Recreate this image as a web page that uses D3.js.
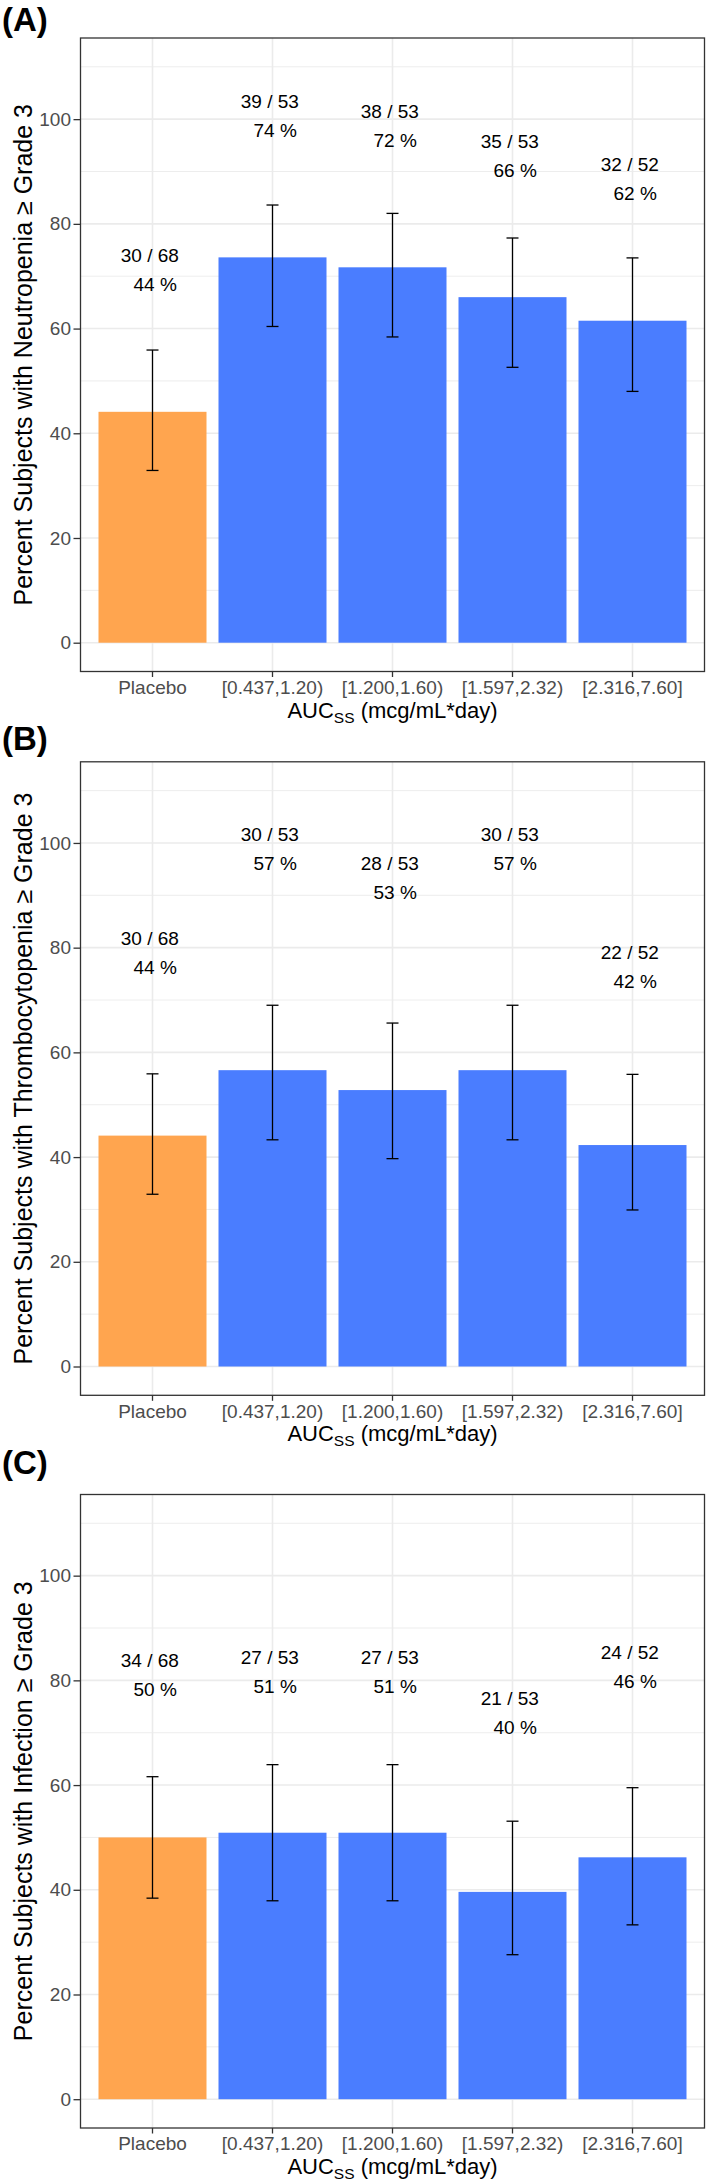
<!DOCTYPE html>
<html>
<head>
<meta charset="utf-8">
<script src="https://cdn.jsdelivr.net/npm/d3@7"></script>
<style>
  body { margin: 0; background: #fff; }
  svg text { font-family: "Liberation Sans", Arial, Helvetica, sans-serif; }
  .note { white-space: pre; }
</style>
</head>
<body>
<div id="chart"></div>
<script>
// ---- data ----
const groups = ["Placebo", "[0.437,1.20)", "[1.200,1.60)", "[1.597,2.32)", "[2.316,7.60]"];
const tags = ["(A)", "(B)", "(C)"];
const events = ["Neutropenia", "Thrombocytopenia", "Infection"];

const subjects = [68, 53, 53, 53, 52];

const casesNeutro = [30, 39, 38, 35, 32];
const casesThrombo = [30, 30, 28, 30, 22];
const casesInfect = [34, 27, 27, 21, 24];

const pctNeutro = [44.1, 73.6, 71.7, 66.0, 61.5];
const pctThrombo = [44.1, 56.6, 52.8, 56.6, 42.3];
const pctInfect = [50.0, 50.9, 50.9, 39.6, 46.2];

// whiskers (95% CI)
const loNeutro = [32.9, 60.4, 58.4, 52.6, 48.0];
const hiNeutro = [55.9, 83.6, 82.0, 77.3, 73.5];
const loThrombo = [32.9, 43.3, 39.7, 43.3, 29.9];
const hiThrombo = [55.9, 69.0, 65.6, 69.0, 55.8];
const loInfect = [38.4, 37.9, 37.9, 27.6, 33.3];
const hiInfect = [61.6, 63.9, 63.9, 53.1, 59.5];

// height of the "x / n, p %" notes (y units, lower line)
const noteNeutro = [67.1, 96.6, 94.7, 89.0, 84.5];
const noteThrombo = [74.9, 94.8, 89.2, 94.8, 72.3];
const noteInfect = [77.0, 77.5, 77.5, 69.7, 78.5];

const yTicks = [0, 20, 40, 60, 80, 100];
const yMinor = [10, 30, 50, 70, 90, 110];

const panels = [
  {tag: tags[0], event: events[0], cases: casesNeutro, pct: pctNeutro, lo: loNeutro, hi: hiNeutro, note: noteNeutro},
  {tag: tags[1], event: events[1], cases: casesThrombo, pct: pctThrombo, lo: loThrombo, hi: hiThrombo, note: noteThrombo},
  {tag: tags[2], event: events[2], cases: casesInfect, pct: pctInfect, lo: loInfect, hi: hiInfect, note: noteInfect}
];

// ---- layout ----
const W = 709, H = 2182;
const left = 80.5, pw = 624, ph = 633.5;
const tops = [38, 761.8, 1494.5];
const tagBase = [31, 750, 1474];

const svg = d3.select("#chart").append("svg")
  .attr("width", W).attr("height", H);

const x = d3.scaleBand()
  .domain(groups)
  .range([left, left + pw])
  .paddingInner(0.1)
  .paddingOuter(0.15);

panels.forEach(function(p, k) {
  const top = tops[k];
  const y = d3.scaleLinear().domain([-5.5, 115.5]).range([top + ph, top]);
  const g = svg.append("g");
  const cx = d => x(d) + x.bandwidth() / 2;

  // grid
  g.append("g").selectAll("line").data(yMinor).join("line")
    .attr("x1", left).attr("x2", left + pw)
    .attr("y1", d => y(d)).attr("y2", d => y(d))
    .attr("stroke", "#EBEBEB").attr("stroke-width", 0.9);
  g.append("g").selectAll("line").data(yTicks).join("line")
    .attr("x1", left).attr("x2", left + pw)
    .attr("y1", d => y(d)).attr("y2", d => y(d))
    .attr("stroke", "#EBEBEB").attr("stroke-width", 1.6);
  g.append("g").selectAll("line").data(groups).join("line")
    .attr("x1", cx).attr("x2", cx)
    .attr("y1", top).attr("y2", top + ph)
    .attr("stroke", "#EBEBEB").attr("stroke-width", 1.6);

  // bars
  g.append("g").selectAll("rect").data(groups).join("rect")
    .attr("x", d => x(d))
    .attr("width", x.bandwidth())
    .attr("y", (d, i) => y(p.pct[i]))
    .attr("height", (d, i) => y(0) - y(p.pct[i]))
    .attr("fill", (d, i) => i === 0 ? "#FFA54F" : "#4A7DFF");

  // error bars
  const eb = g.append("g").attr("stroke", "#000").attr("stroke-width", 1.3);
  eb.selectAll(".v").data(groups).join("line").attr("class", "v")
    .attr("x1", cx).attr("x2", cx)
    .attr("y1", (d, i) => y(p.lo[i])).attr("y2", (d, i) => y(p.hi[i]));
  eb.selectAll(".lo").data(groups).join("line").attr("class", "lo")
    .attr("x1", d => cx(d) - 6).attr("x2", d => cx(d) + 6)
    .attr("y1", (d, i) => y(p.lo[i])).attr("y2", (d, i) => y(p.lo[i]));
  eb.selectAll(".hi").data(groups).join("line").attr("class", "hi")
    .attr("x1", d => cx(d) - 6).attr("x2", d => cx(d) + 6)
    .attr("y1", (d, i) => y(p.hi[i])).attr("y2", (d, i) => y(p.hi[i]));

  // notes
  const nt = g.append("g").attr("font-size", 19).attr("text-anchor", "middle").attr("fill", "#000");
  nt.selectAll(".l1").data(groups).join("text").attr("class", "note l1")
    .attr("x", cx)
    .attr("y", (d, i) => y(p.note[i]) - 29)
    .text((d, i) => p.cases[i] + " / " + subjects[i] + " ");
  nt.selectAll(".l2").data(groups).join("text").attr("class", "note l2")
    .attr("x", cx)
    .attr("y", (d, i) => y(p.note[i]))
    .text((d, i) => " " + Math.round(p.pct[i]) + " %");

  // border
  g.append("rect")
    .attr("x", left).attr("y", top).attr("width", pw).attr("height", ph)
    .attr("fill", "none").attr("stroke", "#333").attr("stroke-width", 1.3);

  // axes
  const ay = g.append("g").attr("transform", "translate(" + left + ",0)")
    .call(d3.axisLeft(y).tickValues(yTicks).tickSize(7).tickPadding(2.5));
  const ax = g.append("g").attr("transform", "translate(0," + (top + ph) + ")")
    .call(d3.axisBottom(x).tickSize(5.5).tickPadding(3.5));
  [ay, ax].forEach(function(a) {
    a.select(".domain").remove();
    a.selectAll(".tick line").attr("stroke", "#333").attr("stroke-width", 1.3);
    a.selectAll(".tick text").attr("fill", "#4D4D4D").attr("font-size", 19)
      .attr("font-family", null);
  });

  // titles
  g.append("text")
    .attr("transform", "translate(32," + (top + ph / 2) + ") rotate(-90)")
    .attr("text-anchor", "middle").attr("font-size", 25).attr("fill", "#000")
    .text("Percent Subjects with " + p.event + " \u2265 Grade 3");

  const xt = g.append("text")
    .attr("x", left + pw / 2).attr("y", top + ph + 46)
    .attr("text-anchor", "middle").attr("font-size", 22).attr("fill", "#000");
  xt.append("tspan").text("AUC");
  xt.append("tspan").attr("font-size", 15.5).attr("dy", 5).text("SS");
  xt.append("tspan").attr("dy", -5).text(" (mcg/mL*day)");

  g.append("text")
    .attr("x", 2).attr("y", tagBase[k])
    .attr("font-size", 33).attr("font-weight", "bold").attr("fill", "#000")
    .text(p.tag);
});
</script>
</body>
</html>
